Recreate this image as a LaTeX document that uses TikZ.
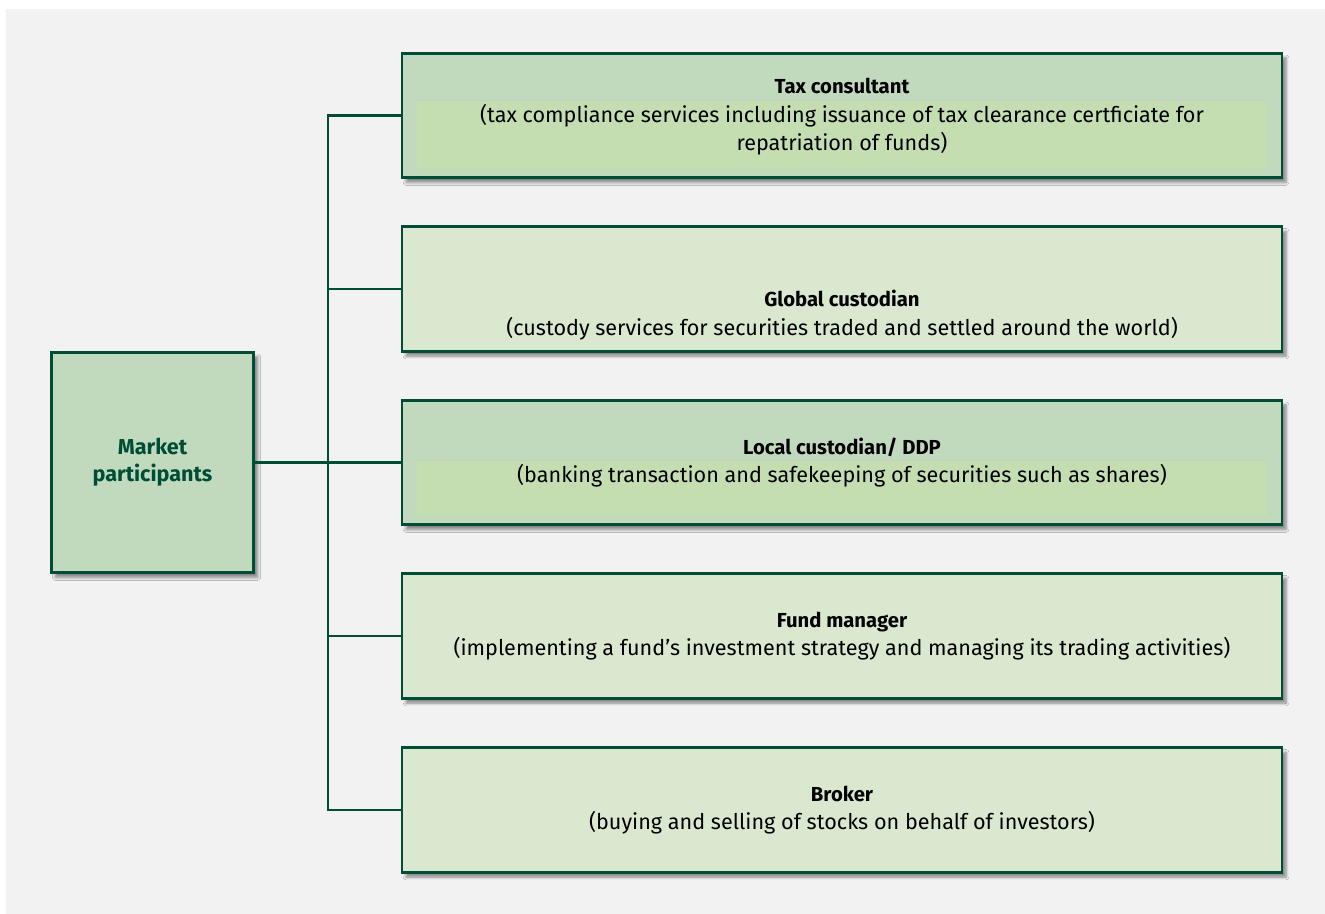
\documentclass[tikz,border=0pt]{standalone}
\usepackage{fontspec}
\setmainfont{Fira Sans}
\usetikzlibrary{shadows.blur}

\definecolor{mpgreen}{RGB}{0,77,54}
\definecolor{boxdark}{RGB}{193,217,189}
\definecolor{boxlight}{RGB}{217,232,206}
\definecolor{boxinner}{RGB}{196,222,177}
\definecolor{pagegray}{RGB}{242,242,242}

\newcommand{\ptitle}[1]{{\bfseries\fontsize{15.2}{21.5}\selectfont #1}}

\tikzset{
  pbox/.style={draw=mpgreen, line width=2.2pt, inner sep=0pt,
    minimum width=660pt, minimum height=93.5pt,
    blur shadow={shadow xshift=3pt, shadow yshift=-3.5pt, shadow blur steps=6, shadow opacity=45}},
  ptext/.style={align=center, font=\fontsize{16.2}{21.5}\selectfont, text=black},
  link/.style={draw=mpgreen, line width=1.6pt}
}

\begin{document}
\begin{tikzpicture}[x=0.75pt, y=-0.75pt]
  \useasboundingbox (0,0) rectangle (1325,914);
  \fill[white] (0,0) rectangle (1325,914);
  \fill[pagegray] (6,9) rectangle (1325,914);

  % participant boxes
  \node[pbox, fill=boxdark]  (tax)    at (842,115.5) {};
  \node[pbox, fill=boxlight] (global) at (842,289) {};
  \node[pbox, fill=boxdark]  (local)  at (842,462.5) {};
  \node[pbox, fill=boxlight] (fund)   at (842,636) {};
  \node[pbox, fill=boxlight] (broker) at (842,810) {};

  % lighter panels behind the descriptions
  \fill[boxinner] ([shift={(16,49)}]tax.north west) rectangle ([shift={(-16,-10)}]tax.south east);
  \draw[boxinner!80!black!60, line width=0.4pt] ([shift={(16,49)}]tax.north west) -- ([shift={(-16,49)}]tax.north east);
  \fill[boxinner] ([shift={(16,62)}]local.north west) rectangle ([shift={(-16,-10)}]local.south east);
  \draw[boxinner!80!black!60, line width=0.4pt] ([shift={(16,62)}]local.north west) -- ([shift={(-16,62)}]local.north east);

  \node[ptext] (tax-txt) at ([yshift=-1pt]tax.center)
    {\ptitle{Tax consultant}\\(tax compliance services including issuance of tax clearance certficiate for\\repatriation of funds)};
  \node[ptext] (global-txt) at ([yshift=-19.5pt]global.center)
    {\ptitle{Global custodian}\\(custody services for securities traded and settled around the world)};
  \node[ptext] (local-txt) at (local.center)
    {\ptitle{Local custodian/ DDP}\\(banking transaction and safekeeping of securities such as shares)};
  \node[ptext] (fund-txt) at (fund.center)
    {\ptitle{Fund manager}\\(implementing a fund's investment strategy and managing its trading activities)};
  \node[ptext] (broker-txt) at (broker.center)
    {\ptitle{Broker}\\(buying and selling of stocks on behalf of investors)};

  % root box
  \node[pbox, fill=boxdark, minimum width=152pt, minimum height=165.5pt,
        align=center, text=mpgreen, font=\bfseries\fontsize{16.2}{20}\selectfont]
    (market) at (152.5,462.5) {Market\\participants};

  % tree lines
  \coordinate (trunk) at (328,462.5);
  \draw[link, line width=2.2pt] (market.east) -- (trunk);
  \draw[link] (tax.west) -| (trunk) |- (broker.west);
  \foreach \b in {global,local,fund}
    \draw[link] (trunk |- \b.west) -- (\b.west);
\end{tikzpicture}
\end{document}
